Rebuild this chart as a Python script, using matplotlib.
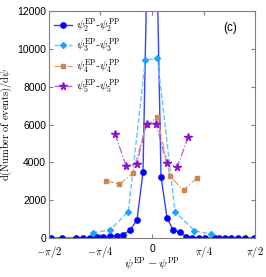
"""Distribution of psi_n^EP - psi_n^PP for harmonics 2..5, panel (c)."""

import matplotlib

matplotlib.use("Agg")
import matplotlib.pyplot as plt
import numpy as np

# bin centres (rad) and counts
x2 = [-1.540, -1.373, -1.159, -1.052, -0.946, -0.839, -0.747, -0.641, -0.534, -0.442, -0.336, -0.229,
      -0.137, 0.0, 0.137, 0.229, 0.320, 0.427, 0.519, 0.610, 0.709, 0.808, 0.961, 1.014, 1.106, 1.205,
      1.304, 1.411, 1.548]
y2 = [0, 0, 0, 20, 20, 40, 60, 80, 100, 180, 400, 950,
      3500, 28000, 3250, 1050, 420, 300, 70, 20, 20, 0, 0, 0, 0, 0,
      0, 0, 0]

x3 = [-0.905, -0.640, -0.361, -0.102, 0.081, 0.351, 0.645, 0.895]
y3 = [280, 420, 1390, 9400, 9500, 1390, 390, 200]

x4 = [-0.701, -0.499, -0.294, -0.092, 0.079, 0.274, 0.480, 0.678]
y4 = [3030, 2840, 3420, 5950, 6380, 3260, 2520, 3160]

x5 = [-0.564, -0.397, -0.233, -0.084, 0.061, 0.221, 0.386, 0.549]
y5 = [5520, 3820, 3910, 6040, 6040, 3980, 3760, 5330]

labels = [r"$\psi_{2}^{\rm EP}$-$\psi_{2}^{\rm PP}$", r"$\psi_{3}^{\rm EP}$-$\psi_{3}^{\rm PP}$",
          r"$\psi_{4}^{\rm EP}$-$\psi_{4}^{\rm PP}$", r"$\psi_{5}^{\rm EP}$-$\psi_{5}^{\rm PP}$"]
xticks = [-np.pi / 2, -np.pi / 4, 0, np.pi / 4, np.pi / 2]
xticklabels = [r"$-\pi/2$", r"$-\pi/4$", "0", r"$\pi/4$", r"$\pi/2$"]
yticks = [0, 2000, 4000, 6000, 8000, 10000, 12000]

plt.rcParams["font.family"] = "Liberation Sans"
plt.rcParams["mathtext.fontset"] = "cm"

fig = plt.figure(figsize=(2.66, 2.77), dpi=100)
ax = fig.add_axes([0.184, 0.141, 0.775, 0.819])

ax.plot(x2, y2, "-", color="#3344ff", lw=1.0, marker="o", ms=3.8, mfc="#0000ff", mec="#0000ff", label=labels[0])
ax.plot(x3, y3, "--", color="#66c4ff", lw=1.0, marker="D", ms=3.0, mfc="#1aa3ff", mec="#1aa3ff", label=labels[1])
ax.plot(x4, y4, "-.", color="#e0a070", lw=0.9, marker="s", ms=3.5, mfc="#d0864a", mec="#d0864a", label=labels[2])
ax.plot(x5, y5, "-.", color="#b060e0", lw=0.9, marker="*", ms=5.5, mfc="#9010d0", mec="#9010d0", label=labels[3])

ax.set_xlim(-np.pi / 2, np.pi / 2)
ax.set_ylim(0, 12000)
ax.set_xticks(xticks, xticklabels)
ax.set_yticks(yticks)
ax.tick_params(direction="in", top=True, right=True, length=3, color="#808080", labelsize=7.5, pad=2)
ax.tick_params(axis="x", pad=4.5)
for spine in ax.spines.values():
    spine.set_color("#808080")
ax.set_xlabel(r"$\psi^{\rm EP}-\psi^{\rm PP}$", fontsize=8.5, labelpad=-4)
ax.set_ylabel(r"$\mathrm{d(Number\ of\ events)/d}\psi$", fontsize=7.5, labelpad=2)
ax.text(0.88, 0.95, "(c)", transform=ax.transAxes, fontsize=8.5, ha="center", va="top")
ax.legend(loc="upper left", frameon=False, fontsize=8, handlelength=1.6, handletextpad=0.3,
          labelspacing=0.25, borderaxespad=0.1, bbox_to_anchor=(0.0, 1.0))

fig.savefig("out.png", dpi=100)
